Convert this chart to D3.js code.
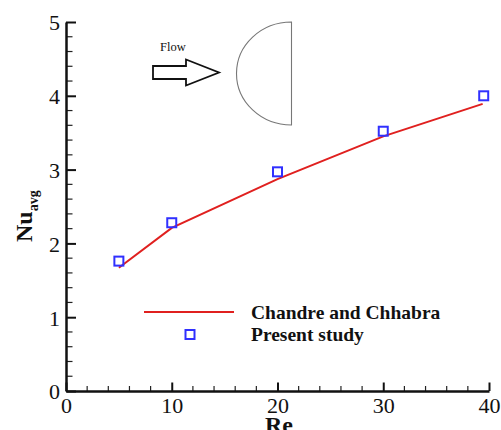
<!DOCTYPE html>
<html>
<head>
<meta charset="utf-8">
<script src="https://cdn.jsdelivr.net/npm/d3@7"></script>
<style>
  html, body { margin: 0; padding: 0; background: #fff; }
  svg { display: block; }
  svg text { font-family: "Liberation Serif", "Times New Roman", "DejaVu Serif", serif; }
</style>
</head>
<body>
<div id="chart"></div>
<script>
// Average Nusselt number vs Reynolds number
const reference = {
  re: [5, 10, 20, 30, 39.4],
  nu: [1.67, 2.21, 2.87, 3.45, 3.89]
};
const presentRe = [5, 10, 20, 30, 39.5];
const presentNu = [1.76, 2.28, 2.97, 3.52, 4.0];
const xTicks = [0, 10, 20, 30, 40];
const yTicks = [0, 1, 2, 3, 4, 5];
const legendLabels = ["Chandre and Chhabra", "Present study"];

const W = 501, H = 430;
const svg = d3.select("#chart").append("svg").attr("width", W).attr("height", H);

const x = d3.scaleLinear().domain([0, 40]).range([66, 489]);
const y = d3.scaleLinear().domain([0, 5]).range([391, 22]);

const serif = '"Liberation Serif", "Times New Roman", "DejaVu Serif", serif';

// Minor ticks
const xMinor = d3.range(0, 40.01, 2).filter(v => v % 10 !== 0);
const yMinor = d3.range(0, 5.001, 0.2).map(v => +v.toFixed(1)).filter(v => Math.abs(v - Math.round(v)) > 1e-6);

svg.append("g").selectAll("line").data(xMinor).join("line")
  .attr("x1", d => x(d)).attr("x2", d => x(d))
  .attr("y1", y(0)).attr("y2", y(0) - 5)
  .attr("stroke", "#222").attr("stroke-width", 1.2);
svg.append("g").selectAll("line").data(yMinor).join("line")
  .attr("y1", d => y(d)).attr("y2", d => y(d))
  .attr("x1", x(0)).attr("x2", x(0) + 6.5)
  .attr("stroke", "#222").attr("stroke-width", 1.2);

// Major axes with inward ticks
const xAxis = d3.axisBottom(x).tickValues(xTicks).tickSizeInner(-8.5).tickSizeOuter(0).tickPadding(0).tickFormat(d3.format("d"));
const yAxis = d3.axisLeft(y).tickValues(yTicks).tickSizeInner(-10).tickSizeOuter(0).tickPadding(0).tickFormat(d3.format("d"));

const gx = svg.append("g").attr("transform", `translate(0,${y(0)})`).call(xAxis);
const gy = svg.append("g").attr("transform", `translate(${x(0)},0)`).call(yAxis);

[gx, gy].forEach(g => {
  g.attr("font-family", null).attr("font-size", null);
  g.select(".domain").attr("stroke", "#111").attr("stroke-width", 2.5);
  g.selectAll(".tick line").attr("stroke", "#111").attr("stroke-width", 2);
  g.selectAll(".tick text").style("font-family", serif).style("font-size", "22px").attr("fill", "#111");
});
gx.selectAll(".tick text").attr("y", 22).attr("dy", 0);
gy.selectAll(".tick text").attr("x", -6).attr("dy", "0.36em").attr("text-anchor", "end");

// Axis titles
svg.append("text")
  .attr("x", 279).attr("y", 433)
  .attr("text-anchor", "middle")
  .style("font-family", serif).style("font-weight", "bold").style("font-size", "24px")
  .attr("fill", "#111")
  .text("Re");

const yt = svg.append("text")
  .attr("transform", "translate(32,242) rotate(-90)")
  .style("font-family", serif).style("font-weight", "bold").style("font-size", "24px")
  .attr("fill", "#111");
yt.append("tspan").text("Nu");
yt.append("tspan").style("font-size", "14px").attr("dy", 6).text("avg");

// Reference correlation line
const line = d3.line().x((d, i) => x(reference.re[i])).y(d => y(d));
svg.append("path")
  .datum(reference.nu)
  .attr("d", line)
  .attr("fill", "none")
  .attr("stroke", "#e0201f")
  .attr("stroke-width", 2);

// Present study markers
const sq = 9;
svg.append("g").selectAll("rect").data(presentNu).join("rect")
  .attr("x", (d, i) => x(presentRe[i]) - sq / 2)
  .attr("y", d => y(d) - sq / 2)
  .attr("width", sq).attr("height", sq)
  .attr("fill", "none")
  .attr("stroke", "#3030ff")
  .attr("stroke-width", 2);

// Legend
const lg = svg.append("g");
lg.append("line")
  .attr("x1", 144).attr("x2", 234).attr("y1", 312).attr("y2", 312)
  .attr("stroke", "#e0201f").attr("stroke-width", 2);
lg.append("rect")
  .attr("x", 190 - sq / 2).attr("y", 334.5 - sq / 2)
  .attr("width", sq).attr("height", sq)
  .attr("fill", "none").attr("stroke", "#3030ff").attr("stroke-width", 2);
lg.selectAll("text").data(legendLabels).join("text")
  .attr("x", 251)
  .attr("y", (d, i) => 319 + i * 21.5)
  .style("font-family", serif).style("font-weight", "bold").style("font-size", "19.5px")
  .attr("fill", "#111")
  .text(d => d);

// Flow direction arrow and half-cylinder sketch
svg.append("text")
  .attr("x", 160).attr("y", 51)
  .style("font-family", serif).style("font-size", "12.5px").attr("fill", "#111")
  .text("Flow");

const arrow = d3.path();
arrow.moveTo(153, 66);
arrow.lineTo(186, 66);
arrow.lineTo(186, 59.5);
arrow.lineTo(219, 72.5);
arrow.lineTo(186, 85.5);
arrow.lineTo(186, 79);
arrow.lineTo(153, 79);
arrow.closePath();
svg.append("path").attr("d", arrow.toString())
  .attr("fill", "#fff").attr("stroke", "#111").attr("stroke-width", 1.8)
  .attr("stroke-linejoin", "miter");

const cx = 291.5, cy = 73.5, rx = 55, ry = 51.5;
svg.append("path")
  .attr("d", `M${cx},${cy - ry} A${rx},${ry} 0 0 0 ${cx},${cy + ry} Z`)
  .attr("fill", "none").attr("stroke", "#777").attr("stroke-width", 1.1);
</script>
</body>
</html>
